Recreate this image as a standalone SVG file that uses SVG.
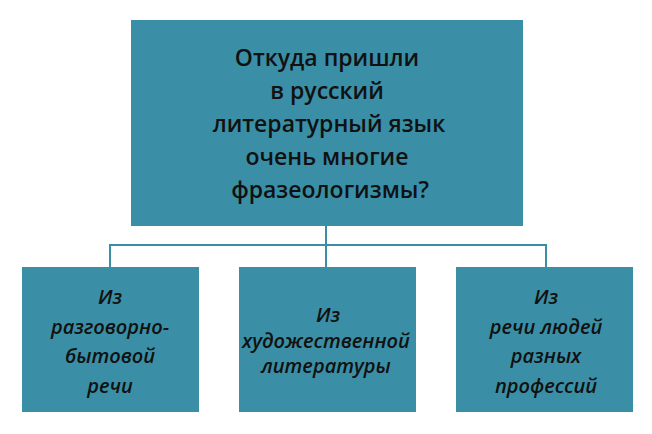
<svg xmlns="http://www.w3.org/2000/svg" width="652" height="434" viewBox="0 0 652 434">
<style>
.box{fill:#3a8fa6;}
.conn{fill:none;stroke:#3a8fa6;stroke-width:2;}
.t{font-family:"Open Sans","Noto Sans",sans-serif;font-size:23px;font-weight:600;fill:#111;text-anchor:middle;}
.s{font-family:"Open Sans","Noto Sans",sans-serif;font-size:20px;font-style:italic;font-weight:600;fill:#111;text-anchor:middle;}
</style>
<rect width="652" height="434" fill="#ffffff"/>
<g id="connectors">
<path class="conn" d="M326 226 V245 M110 267 V245 H546 V267 M326 245 V267"/>
</g>
<g id="top">
<rect class="box" x="131" y="20" width="392" height="206"/>
<text class="t" x="327" y="66">Откуда пришли</text>
<text class="t" x="327" y="99">в русский</text>
<text class="t" x="329" y="132">литературный язык</text>
<text class="t" x="327" y="165">очень многие</text>
<text class="t" x="330" y="198">фразеологизмы?</text>
</g>
<g id="box1">
<rect class="box" x="22" y="267" width="177" height="145"/>
<text class="s" x="110" y="304">Из</text>
<text class="s" x="110" y="334">разговорно-</text>
<text class="s" x="110" y="363">бытовой</text>
<text class="s" x="110" y="393">речи</text>
</g>
<g id="box2">
<rect class="box" x="239" y="267" width="177" height="145"/>
<text class="s" x="328" y="322">Из</text>
<text class="s" x="326" y="348">художественной</text>
<text class="s" x="326" y="373">литературы</text>
</g>
<g id="box3">
<rect class="box" x="456" y="267" width="177" height="145"/>
<text class="s" x="546" y="304">Из</text>
<text class="s" x="546" y="334">речи людей</text>
<text class="s" x="546" y="363">разных</text>
<text class="s" x="546" y="393">профессий</text>
</g>
</svg>
